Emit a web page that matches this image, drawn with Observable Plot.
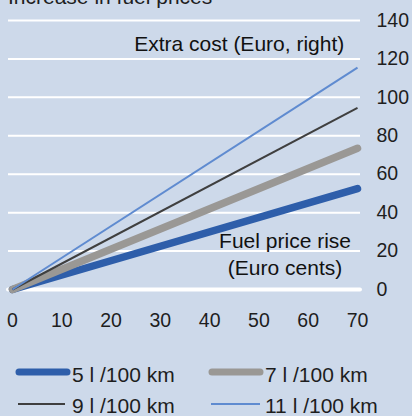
<!DOCTYPE html>
<html>
<head>
<meta charset="utf-8">
<script src="https://cdn.jsdelivr.net/npm/d3@7"></script>
<script src="https://cdn.jsdelivr.net/npm/@observablehq/plot@0.6"></script>
<style>
html,body{margin:0;padding:0;background:#cdd9ea;overflow:hidden}
#wrap{position:relative;width:412px;height:416px;font-family:"Liberation Sans",Arial,Helvetica,sans-serif;color:#1e1e1e}
#chart{position:absolute;left:0;top:0}
#title{position:absolute;left:8px;top:-14px;font-size:21px;line-height:21px;white-space:nowrap}
.sw{position:absolute;width:58px;height:10px}
.lab{position:absolute;font-size:21px;line-height:21px;white-space:nowrap}
</style>
</head>
<body>
<div id="wrap">
  <div id="chart"></div>
  <div id="title">Increase in fuel prices</div>
  <div id="legend"></div>
</div>
<script>
// Fuel price rise (Euro cents)
const priceRise = [0, 70];
// Extra cost (Euro) per consumption level
const cost5 = [0, 52.5];
const cost7 = [0, 73.5];
const cost9 = [0, 94.5];
const cost11 = [0, 115.5];
const seriesNames = ["5 l /100 km", "7 l /100 km", "9 l /100 km", "11 l /100 km"];
const seriesColors = ["#2e5eaa", "#9a9895", "#3f3f3f", "#5f8bd0"];
const seriesWidths = [7.5, 7.5, 2, 2];
const xTicks = [0, 10, 20, 30, 40, 50, 60, 70];
const yTicks = [0, 20, 40, 60, 80, 100, 120, 140];

const allCosts = [cost5, cost7, cost9, cost11];
const rows = allCosts.flatMap((c, i) => priceRise.map((p, j) => ({rise: p, cost: c[j], series: seriesNames[i]})));

const lineMarks = seriesNames.map((name, i) =>
  Plot.line(rows.filter(d => d.series === name), {
    x: "rise", y: "cost",
    stroke: seriesColors[i], strokeWidth: seriesWidths[i],
    strokeLinecap: i < 2 ? "round" : "butt"
  })
);

const chart = Plot.plot({
  width: 412,
  height: 345,
  marginTop: 20,
  marginBottom: 56,
  marginLeft: 8,
  marginRight: 52,
  style: {background: "transparent", fontFamily: "'Liberation Sans', Arial, sans-serif", fontSize: "19px", color: "#1e1e1e"},
  x: {domain: [0, 70], insetLeft: 4, insetRight: 3, axis: null},
  y: {domain: [0, 140], axis: null},
  marks: [
    Plot.ruleY(yTicks.filter(d => d > 0), {stroke: "white", strokeWidth: 2}),
    Plot.ruleY([0], {stroke: "white", strokeWidth: 4, strokeLinecap: "round"}),
    ...lineMarks,
    Plot.axisX(xTicks, {anchor: "bottom", tickSize: 0, tickPadding: 24, fontSize: 19.5, label: null}),
    Plot.axisY(yTicks, {anchor: "right", tickSize: 0, tickPadding: 16, fontSize: 19.5, label: null}),
    Plot.text(["Extra cost (Euro, right)"], {x: 46, y: 127.4, text: d => d, fontSize: 21, textAnchor: "middle", fill: "#111"}),
    Plot.text(["Fuel price rise"], {x: 55.3, y: 25.3, text: d => d, fontSize: 21, textAnchor: "middle", fill: "#111"}),
    Plot.text(["(Euro cents)"], {x: 55.3, y: 10.8, text: d => d, fontSize: 21, textAnchor: "middle", fill: "#111"})
  ]
});
document.getElementById("chart").appendChild(chart);

// Legend
const legend = document.getElementById("legend");
const colLeft = [14, 207];
const rowSw = [367, 399];
const rowLab = [364, 395];
seriesNames.forEach((name, i) => {
  const col = i % 2, row = Math.floor(i / 2);
  const sw = document.createElementNS("http://www.w3.org/2000/svg", "svg");
  sw.setAttribute("class", "sw");
  sw.setAttribute("width", 58);
  sw.setAttribute("height", 10);
  sw.style.left = colLeft[col] + "px";
  sw.style.top = rowSw[row] + "px";
  const ln = document.createElementNS("http://www.w3.org/2000/svg", "line");
  const thick = seriesWidths[i] > 3;
  ln.setAttribute("x1", thick ? 5 : 4);
  ln.setAttribute("x2", thick ? 53 : (col === 0 ? 51 : 53));
  ln.setAttribute("y1", 5);
  ln.setAttribute("y2", 5);
  ln.setAttribute("stroke", seriesColors[i]);
  ln.setAttribute("stroke-width", thick ? 7 : 2.2);
  ln.setAttribute("stroke-linecap", thick ? "round" : "butt");
  sw.appendChild(ln);
  legend.appendChild(sw);
  const lab = document.createElement("div");
  lab.className = "lab";
  lab.textContent = name;
  lab.style.left = (colLeft[col] + 58) + "px";
  lab.style.top = rowLab[row] + "px";
  legend.appendChild(lab);
});
</script>
</body>
</html>
